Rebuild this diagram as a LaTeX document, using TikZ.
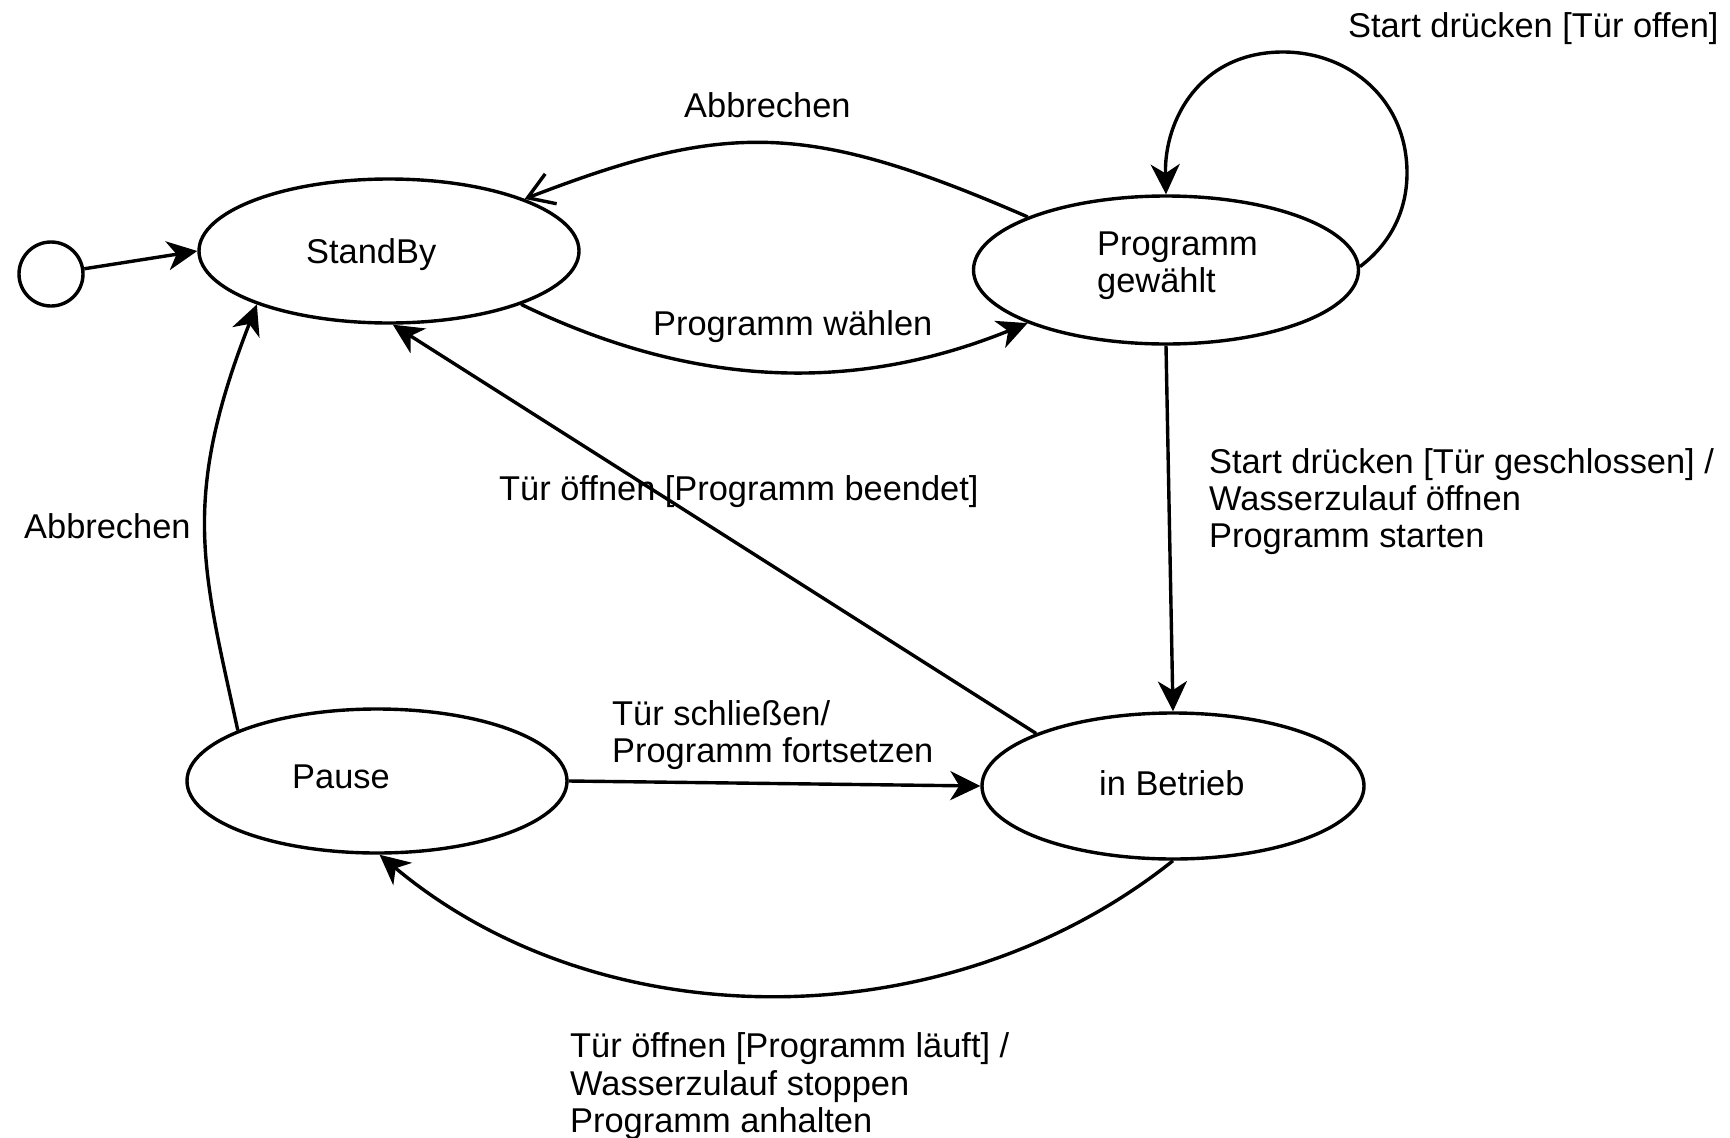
\documentclass[tikz,border=0pt]{standalone}
\usepackage{fontspec}
\setmainfont{Liberation Sans}
\usetikzlibrary{shapes.geometric,arrows.meta}
\tikzset{
  stateshape/.style={draw, ellipse, line width=3.4pt, inner sep=0pt},
  txt/.style={anchor=base west, inner sep=0pt, font=\fontsize{34.4}{40}\selectfont},
  conn/.style={line width=3.4pt, -{Stealth[length=30pt,width=29pt,inset=9pt]}},
  openconn/.style={line width=3.4pt, -{Straight Barb[length=25pt,width=32pt]}}
}
\begin{document}
\begin{tikzpicture}[x=1pt,y=-1pt]
\useasboundingbox (0,0) rectangle (1730,1138);
\fill[white] (0,0) rectangle (1730,1138);

% states
\node[circle, draw, line width=3.4pt, minimum size=64pt, inner sep=0pt] (init) at (51,274) {};
\node[stateshape, minimum width=380pt, minimum height=144pt] (sb) at (389,251) {};
\node[stateshape, minimum width=385pt, minimum height=148pt] (pg) at (1166,270) {};
\node[stateshape, minimum width=380pt, minimum height=144pt] (pa) at (377,781) {};
\node[stateshape, minimum width=382pt, minimum height=146pt] (ib) at (1173,786) {};

% state texts
\node[txt] (tsb) at (306,263) {StandBy};
\node[txt] (tpg1) at (1097,255) {Programm};
\node[txt] (tpg2) at (1097,292) {gewählt};
\node[txt] (tpa) at (292,788) {Pause};
\node[txt] (tib) at (1099,795) {in Betrieb};

% connectors
\draw[conn] (init) -- (sb.west);
\draw[openconn] (pg.159) .. controls (807,121) and (727,121) .. (sb.21);
\draw[conn] (sb.-22) .. controls (700,391) and (860,391) .. (pg.201);
\draw[conn] (pg.1) .. controls (1395,240) and (1407,205) .. (1407,173)
   .. controls (1407,100) and (1350,52) .. (1283,52)
   .. controls (1200,52) and (1164,120) .. (pg.north);
\draw[conn] (pg.south) -- (ib.north);
\draw[conn] (ib.159) -- (sb.-87);
\draw[conn] (pa.east) -- (ib.west);
\draw[conn] (ib.south) .. controls (947,1041) and (602,1041) .. (pa.-88);
\draw[conn] (pa.160) .. controls (202.6,568.5) and (180.4,500) .. (sb.202);

% transition labels
\node[txt] (l1) at (1348,37) {Start drücken [Tür offen]};
\node[txt] (l2) at (684,117) {Abbrechen};
\node[txt] (l3) at (653,335) {Programm wählen};
\node[txt] (l4) at (499,500) {Tür öffnen [Programm beendet]};
\node[txt] (l5) at (24,538) {Abbrechen};
\node[txt] (l6a) at (1209,473) {Start drücken [Tür geschlossen] /};
\node[txt] (l6b) at (1209,510) {Wasserzulauf öffnen};
\node[txt] (l6c) at (1209,547) {Programm starten};
\node[txt] (l7a) at (612,725) {Tür schließen/};
\node[txt] (l7b) at (612,762) {Programm fortsetzen};
\node[txt] (l8a) at (570,1057) {Tür öffnen [Programm läuft] /};
\node[txt] (l8b) at (570,1095) {Wasserzulauf stoppen};
\node[txt] (l8c) at (570,1132) {Programm anhalten};
\end{tikzpicture}
\end{document}
